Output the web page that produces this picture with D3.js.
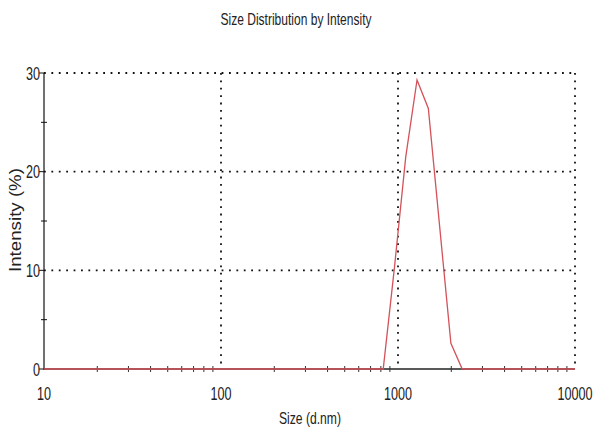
<!DOCTYPE html>
<html>
<head>
<meta charset="utf-8">
<script src="https://cdn.jsdelivr.net/npm/d3@7"></script>
<style>
  body { margin: 0; background: #fff; }
  text { font-family: "Liberation Sans", Arial, sans-serif; fill: #222; }
</style>
</head>
<body>
<div id="chart"></div>
<script>
// size bins (d.nm) and intensity (%)
const sizes = [10, 825, 955, 1106, 1281, 1484, 1718, 1990, 2305, 10000];
const intensity = [0, 0, 10.3, 21.5, 29.3, 26.4, 14.5, 2.6, 0, 0];
const xMajor = [10, 100, 1000, 10000];
const yMajor = [0, 10, 20, 30];
const yMinor = [5, 15, 25];

const width = 594, height = 435;
const plotLeft = 44, plotRight = 575, plotTop = 73, plotBottom = 369;
const squeeze = 0.72; // narrow font look for tick labels

const svg = d3.select("#chart").append("svg")
  .attr("width", width)
  .attr("height", height);

const x = d3.scaleLog().domain([10, 10000]).range([plotLeft, plotRight]);
const y = d3.scaleLinear().domain([0, 30]).range([plotBottom, plotTop]);

// minor log ticks (2..9 of each decade)
const xMinor = x.ticks().filter(d => xMajor.indexOf(d) < 0);

// dotted grid
const grid = svg.append("g")
  .attr("stroke", "#111")
  .attr("stroke-width", 1.8)
  .attr("stroke-dasharray", "1.8,5.6");
grid.selectAll(".gy")
  .data(yMajor.filter(d => d > 0))
  .enter().append("line")
  .attr("x1", plotLeft).attr("x2", plotRight)
  .attr("y1", d => y(d)).attr("y2", d => y(d));
grid.selectAll(".gx")
  .data(xMajor.filter(d => d > 10))
  .enter().append("line")
  .attr("x1", d => x(d)).attr("x2", d => x(d))
  .attr("y1", plotTop).attr("y2", plotBottom);

// axes lines
svg.append("line")
  .attr("x1", plotLeft).attr("x2", plotLeft).attr("y1", plotTop).attr("y2", plotBottom + 1)
  .attr("stroke", "#111").attr("stroke-width", 1.2);
svg.append("line")
  .attr("x1", plotLeft).attr("x2", plotRight).attr("y1", plotBottom).attr("y2", plotBottom)
  .attr("stroke", "#222").attr("stroke-width", 1.6);

// y ticks
svg.selectAll(".ytk")
  .data(yMajor)
  .enter().append("line")
  .attr("x1", plotLeft - 5).attr("x2", plotLeft)
  .attr("y1", d => y(d)).attr("y2", d => y(d))
  .attr("stroke", "#111");
svg.selectAll(".ymn")
  .data(yMinor)
  .enter().append("line")
  .attr("x1", plotLeft - 3).attr("x2", plotLeft + 3)
  .attr("y1", d => y(d)).attr("y2", d => y(d))
  .attr("stroke", "#111");
svg.selectAll(".ylab")
  .data(yMajor)
  .enter().append("text")
  .attr("transform", d => `translate(${plotLeft - 4},${y(d) + 6.5}) scale(${squeeze},1)`)
  .attr("text-anchor", "end")
  .style("font-size", "17.5px")
  .text(d => d);

// x ticks
svg.selectAll(".xmn")
  .data(xMinor)
  .enter().append("line")
  .attr("x1", d => x(d)).attr("x2", d => x(d))
  .attr("y1", plotBottom - 3).attr("y2", plotBottom + 3)
  .attr("stroke", "#333");
svg.selectAll(".xlab")
  .data(xMajor)
  .enter().append("text")
  .attr("transform", d => `translate(${x(d)},400) scale(${squeeze},1)`)
  .attr("text-anchor", "middle")
  .style("font-size", "17.5px")
  .text(d => d);

// data line
const line = d3.line()
  .x((d, i) => x(sizes[i]))
  .y(d => y(d));
svg.append("path")
  .datum(intensity)
  .attr("d", line)
  .attr("fill", "none")
  .attr("stroke", "#d4525a")
  .attr("stroke-width", 1.3);

// titles
svg.append("text")
  .attr("x", 296).attr("y", 25)
  .attr("text-anchor", "middle")
  .attr("textLength", 151)
  .attr("lengthAdjust", "spacingAndGlyphs")
  .style("font-size", "17px")
  .text("Size Distribution by Intensity");
svg.append("text")
  .attr("x", 310).attr("y", 424)
  .attr("text-anchor", "middle")
  .attr("textLength", 62)
  .attr("lengthAdjust", "spacingAndGlyphs")
  .style("font-size", "16.5px")
  .text("Size (d.nm)");
svg.append("text")
  .attr("transform", "translate(21,220) rotate(-90)")
  .attr("text-anchor", "middle")
  .attr("textLength", 104)
  .attr("lengthAdjust", "spacingAndGlyphs")
  .style("font-size", "16.5px")
  .text("Intensity (%)");
</script>
</body>
</html>
